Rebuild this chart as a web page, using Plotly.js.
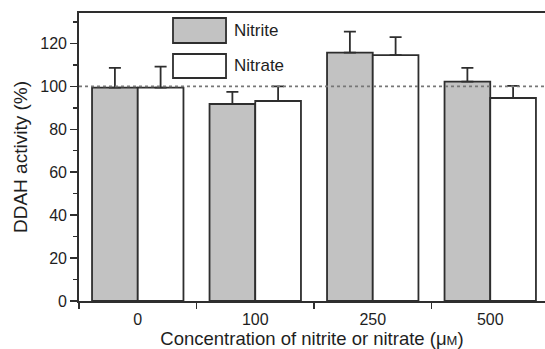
<!DOCTYPE html>
<html>
<head>
<meta charset="utf-8">
<script src="https://cdn.plot.ly/plotly-3.0.1.min.js"></script>
<style>html,body{margin:0;padding:0;background:#fff;}#chart{width:545px;height:349px;}</style>
</head>
<body>
<div id="chart"></div>
<script>
// Data
const categories = ["0", "100", "250", "500"];
const nitrite = [99.4, 91.8, 115.7, 102.2];
const nitriteErr = [9.2, 5.6, 9.8, 6.4];
const nitrate = [99.4, 93.2, 114.6, 94.6];
const nitrateErr = [9.8, 6.8, 8.4, 5.6];
const seriesNames = ["Nitrite", "Nitrate"];
const referenceLevel = 100;

const FONT = "Liberation Sans, Arial, Helvetica, sans-serif";
const EDGE = "#2e2e2e";
const TXT = "#1e1e1e";

function zeros(n){ return new Array(n).fill(0); }

const traces = [
  {
    type: "bar", name: seriesNames[0], x: categories, y: nitrite,
    marker: {color: "#c2c2c2", line: {color: EDGE, width: 1.8}},
    error_y: {type: "data", symmetric: false, array: nitriteErr, arrayminus: zeros(nitriteErr.length),
              color: EDGE, thickness: 1.8, width: 6},
    showlegend: false, hoverinfo: "skip"
  },
  {
    type: "bar", name: seriesNames[1], x: categories, y: nitrate,
    marker: {color: "#ffffff", line: {color: EDGE, width: 1.8}},
    error_y: {type: "data", symmetric: false, array: nitrateErr, arrayminus: zeros(nitrateErr.length),
              color: EDGE, thickness: 1.8, width: 6},
    showlegend: false, hoverinfo: "skip"
  }
];

const xr = [-0.5, 3.466];
const yr = [0, 134.2];

const layout = {
  width: 545, height: 349,
  margin: {l: 79, r: 0, t: 13, b: 48, pad: 0},
  paper_bgcolor: "#ffffff", plot_bgcolor: "#ffffff",
  font: {family: FONT, color: TXT, size: 16},
  barmode: "group", bargap: 0.222, bargroupgap: 0,
  showlegend: false,
  xaxis: {
    type: "category", range: xr, fixedrange: true,
    showline: true, linecolor: EDGE, linewidth: 1.8, mirror: true,
    showgrid: false, zeroline: false,
    ticks: "outside", tickson: "boundaries", ticklen: 6, tickwidth: 1.6, tickcolor: EDGE,
    ticklabelstandoff: 3,
    tickfont: {family: FONT, size: 16, color: TXT},
    title: {text: "Concentration of nitrite or nitrate (μ<span style='font-size:13px'>M</span>)",
            font: {family: FONT, size: 18.5, color: TXT}, standoff: 6}
  },
  xaxis2: {
    overlaying: "x", side: "top", anchor: "y", range: xr, type: "linear",
    showline: false, showgrid: false, zeroline: false, showticklabels: false,
    ticks: "inside", ticklen: 6, tickwidth: 1.6, tickcolor: EDGE,
    tickmode: "linear", tick0: -0.5, dtick: 0.5
  },
  yaxis: {
    range: yr, fixedrange: true,
    showline: true, linecolor: EDGE, linewidth: 1.8, mirror: false,
    showgrid: false, zeroline: false,
    ticks: "outside", ticklen: 7, tickwidth: 1.6, tickcolor: EDGE,
    tickmode: "linear", tick0: 0, dtick: 20,
    minor: {ticks: "outside", ticklen: 4, tickwidth: 1.4, tickcolor: EDGE, dtick: 10, tick0: 0, showgrid: false},
    tickfont: {family: FONT, size: 16, color: TXT},
    title: {text: "DDAH activity (%)", font: {family: FONT, size: 19, color: TXT}, standoff: 8}
  },
  yaxis2: {
    overlaying: "y", side: "right", anchor: "x", range: yr,
    showline: false, showgrid: false, zeroline: false, showticklabels: false,
    ticks: "inside", ticklen: 8, tickwidth: 1.6, tickcolor: EDGE,
    tickmode: "linear", tick0: 0, dtick: 20,
    minor: {ticks: "inside", ticklen: 4, tickwidth: 1.4, tickcolor: EDGE, dtick: 10, tick0: 0, showgrid: false}
  },
  shapes: [
    {type: "line", xref: "paper", x0: 0, x1: 1, yref: "y", y0: referenceLevel, y1: referenceLevel,
     line: {color: "#777777", width: 1.6, dash: "dot"}, layer: "above"},
    {type: "rect", xref: "paper", yref: "paper", x0: 0.2017, x1: 0.3155, y0: 0.8958, y1: 0.9826,
     fillcolor: "#c2c2c2", line: {color: EDGE, width: 1.8}, layer: "above"},
    {type: "rect", xref: "paper", yref: "paper", x0: 0.2017, x1: 0.3155, y0: 0.7743, y1: 0.8576,
     fillcolor: "#ffffff", line: {color: EDGE, width: 1.8}, layer: "above"}
  ],
  annotations: [
    {xref: "paper", yref: "paper", x: 0.3283, y: 0.939, xanchor: "left", yanchor: "middle",
     text: seriesNames[0], showarrow: false, font: {family: FONT, size: 17, color: TXT}},
    {xref: "paper", yref: "paper", x: 0.3283, y: 0.816, xanchor: "left", yanchor: "middle",
     text: seriesNames[1], showarrow: false, font: {family: FONT, size: 17, color: TXT}}
  ]
};

Plotly.newPlot("chart", traces, layout, {staticPlot: true, displayModeBar: false});
</script>
</body>
</html>
